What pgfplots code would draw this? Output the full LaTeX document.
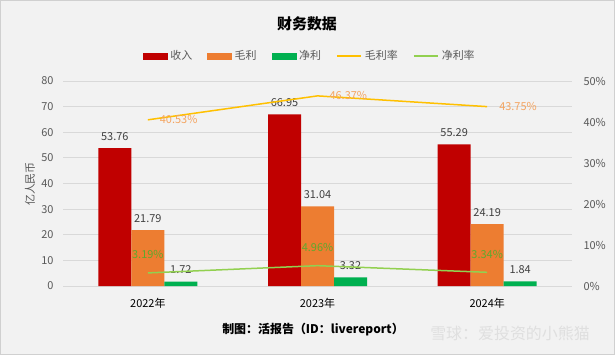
\documentclass[border=0pt]{standalone}
\usepackage{pgfplots}
\pgfplotsset{compat=1.18}
\usepackage{fontspec}
\setmainfont{Noto Sans CJK SC}
\definecolor{bg}{HTML}{F2F2F2}
\definecolor{frame}{HTML}{D0D0D0}
\definecolor{gridc}{HTML}{D9D9D9}
\definecolor{tickc}{HTML}{595959}
\definecolor{valc}{HTML}{404040}
\definecolor{cred}{HTML}{C00000}
\definecolor{corange}{HTML}{ED7D31}
\definecolor{cgreen}{HTML}{00B050}
\definecolor{cyellow}{HTML}{FFC000}
\definecolor{clgreen}{HTML}{92D050}
\definecolor{gmtext}{HTML}{F4A460}
\definecolor{nmtext}{HTML}{5FA82E}
\begin{document}
\begin{tikzpicture}[x=1bp,y=1bp]
\fill[bg] (0,0) rectangle (615,355);
\draw[frame,line width=1bp] (0.5,0.5) rectangle (614.5,354.5);
\node[font=\bfseries\fontsize{15}{18}\selectfont] at (307,331) {财务数据};
\node[font=\fontsize{11}{13}\selectfont, text=tickc, rotate=90] at (30,171) {亿人民币};
\node[font=\bfseries\fontsize{12}{14}\selectfont] at (313,25) {制图：活报告（ID：livereport）};
\node[font=\fontsize{16}{18}\selectfont, text=gray!25] at (510,22) {雪球：爱投资的小熊猫};
\begin{axis}[
  at={(63bp,69bp)}, anchor=south west,
  scale only axis, width=509bp, height=205bp,
  xmin=-0.5, xmax=2.5, ymin=0, ymax=80,
  ytick={0,10,...,80},
  xtick={0,1,2}, xticklabels={2022年,2023年,2024年},
  axis line style={draw=none},
  major tick length=0pt,
  ymajorgrids, grid style={gridc, line width=0.8bp},
  /pgf/number format/assume math mode=true,
  yticklabel style={font=\fontsize{11}{13}\selectfont, text=tickc, xshift=-6bp},
  xticklabel style={font=\fontsize{11}{13}\selectfont, text=black, yshift=-9bp},
  ybar=0pt, bar width=33bp,
  nodes near coords={\pgfmathprintnumber[fixed,precision=2,fixed zerofill]{\pgfplotspointmeta}},
  every node near coord/.append style={font=\fontsize{11}{13}\selectfont, text=valc, anchor=base, yshift=8bp},
]
\addplot[fill=cred, draw=none] coordinates {(0,53.76) (1,66.95) (2,55.29)};
\addplot[fill=corange, draw=none] coordinates {(0,21.79) (1,31.04) (2,24.19)};
\addplot[fill=cgreen, draw=none] coordinates {(0,1.72) (1,3.32) (2,1.84)};
\end{axis}
\begin{axis}[
  at={(63bp,69bp)}, anchor=south west,
  scale only axis, width=509bp, height=205bp,
  xmin=-0.5, xmax=2.5, ymin=0, ymax=50,
  ytick={0,10,...,50},
  yticklabel={\pgfmathprintnumber{\tick}\%},
  axis y line*=right, hide x axis,
  axis line style={draw=none},
  major tick length=0pt,
  /pgf/number format/assume math mode=true,
  yticklabel style={font=\fontsize{11}{13}\selectfont, text=tickc, xshift=8bp},
  legend style={at={(0.485,1.122)}, anchor=center, draw=none, fill=none,
    font=\fontsize{11}{13}\selectfont, text=tickc, legend columns=5,
    /tikz/every odd column/.append style={column sep=1bp},
    /tikz/every even column/.append style={column sep=13bp},
    inner sep=0pt, cells={anchor=west}},
  legend cell align=left,
]
\addlegendimage{legend image code/.code={\fill[cred] (0bp,-3bp) rectangle (24bp,3bp);}}
\addlegendentry{收入}
\addlegendimage{legend image code/.code={\fill[corange] (0bp,-3bp) rectangle (24bp,3bp);}}
\addlegendentry{毛利}
\addlegendimage{legend image code/.code={\fill[cgreen] (0bp,-3bp) rectangle (24bp,3bp);}}
\addlegendentry{净利}
\addlegendimage{legend image code/.code={\draw[cyellow,line width=2bp] (0bp,0bp) -- (24bp,0bp);}}
\addlegendentry{毛利率}
\addlegendimage{legend image code/.code={\draw[clgreen,line width=2bp] (0bp,0bp) -- (24bp,0bp);}}
\addlegendentry{净利率}
\addplot[cyellow, line width=1.5bp, no marks,
  point meta=explicit symbolic, nodes near coords,
  every node near coord/.style={font=\fontsize{11}{13}\selectfont, text=gmtext, anchor=west, xshift=8bp}]
  coordinates {(0,40.53) [40.53\%] (1,46.37) [46.37\%] (2,43.75) [43.75\%]};
\addplot[clgreen, line width=1.5bp, no marks,
  point meta=explicit symbolic, nodes near coords,
  every node near coord/.style={font=\fontsize{11}{13}\selectfont, text=nmtext, anchor=base, yshift=14bp}]
  coordinates {(0,3.19) [3.19\%] (1,4.96) [4.96\%] (2,3.34) [3.34\%]};
\end{axis}
\end{tikzpicture}
\end{document}
